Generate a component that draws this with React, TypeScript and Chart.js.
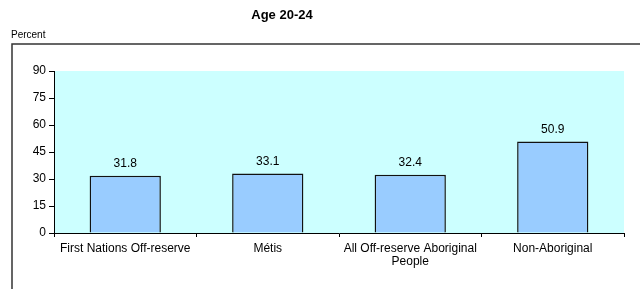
import React, { useEffect, useRef } from "react";
import { Chart, registerables } from "chart.js";

Chart.register(...registerables);

const categories: (string | string[])[] = [
  "First Nations Off-reserve",
  "Métis",
  ["All Off-reserve Aboriginal", "People"],
  "Non-Aboriginal",
];
const values = [31.8, 33.1, 32.4, 50.9];
const yTicks = [0, 15, 30, 45, 60, 75, 90];
const titleText = "Age 20-24";
const yLabel = "Percent";

const FONT = "'Liberation Sans', Arial, sans-serif";

const decorPlugin = {
  id: "decor",
  beforeDraw(chart: any) {
    const { ctx, chartArea } = chart;
    ctx.save();
    ctx.fillStyle = "#CCFFFF";
    ctx.fillRect(chartArea.left, chartArea.top, chartArea.right - chartArea.left, chartArea.bottom - chartArea.top);
    // outer frame
    ctx.strokeStyle = "#333";
    ctx.lineWidth = 1.5;
    ctx.strokeRect(12, 44, 700, 300);
    // title
    ctx.fillStyle = "#000";
    ctx.font = `bold 13px ${FONT}`;
    ctx.textAlign = "center";
    ctx.textBaseline = "middle";
    ctx.fillText(titleText, 282, 15);
    // y label
    ctx.font = `10px ${FONT}`;
    ctx.textAlign = "left";
    ctx.fillText(yLabel, 11, 35);
    ctx.restore();
  },
  afterDatasetsDraw(chart: any) {
    const { ctx } = chart;
    const meta = chart.getDatasetMeta(0);
    ctx.save();
    ctx.fillStyle = "#000";
    ctx.font = `12px ${FONT}`;
    ctx.textAlign = "center";
    ctx.textBaseline = "middle";
    meta.data.forEach((bar: any, i: number) => {
      ctx.fillText(values[i].toFixed(1), bar.x, bar.y - 12);
    });
    ctx.restore();
  },
};

export default function App() {
  const ref = useRef<HTMLCanvasElement>(null);
  useEffect(() => {
    document.body.style.margin = "0";
    const chart = new Chart(ref.current!, {
      type: "bar",
      data: {
        labels: categories,
        datasets: [
          {
            data: values,
            backgroundColor: "#99CCFF",
            borderColor: "#111",
            borderWidth: 1.5,
            barPercentage: 0.5,
            categoryPercentage: 1,
          },
        ],
      },
      options: {
        animation: false,
        responsive: false,
        devicePixelRatio: 1,
        layout: { padding: { left: 12, right: 16, top: 71, bottom: 0 } },
        plugins: { legend: { display: false }, tooltip: { enabled: false } },
        scales: {
          x: {
            offset: true,
            grid: {
              offset: true,
              drawOnChartArea: false,
              drawTicks: true,
              tickLength: 4,
              color: "#000",
            },
            border: { display: true, color: "#000", width: 1 },
            ticks: {
              color: "#000",
              font: { family: FONT, size: 12, lineHeight: 1.1 },
              padding: 5,
              maxRotation: 0,
              autoSkip: false,
            },
            afterFit(scale: any) {
              scale.height = 56;
            },
          },
          y: {
            min: 0,
            max: 90,
            afterBuildTicks(scale: any) {
              scale.ticks = yTicks.map((v) => ({ value: v }));
            },
            grid: {
              drawOnChartArea: false,
              drawTicks: true,
              tickLength: 5,
              color: "#000",
            },
            border: { display: true, color: "#000", width: 1 },
            ticks: {
              color: "#000",
              font: { family: FONT, size: 12 },
              padding: 3,
            },
            afterFit(scale: any) {
              scale.width = 42;
            },
          },
        },
      },
      plugins: [decorPlugin],
    });
    return () => chart.destroy();
  }, []);
  return <canvas ref={ref} width={640} height={289} style={{ display: "block" }} />;
}
